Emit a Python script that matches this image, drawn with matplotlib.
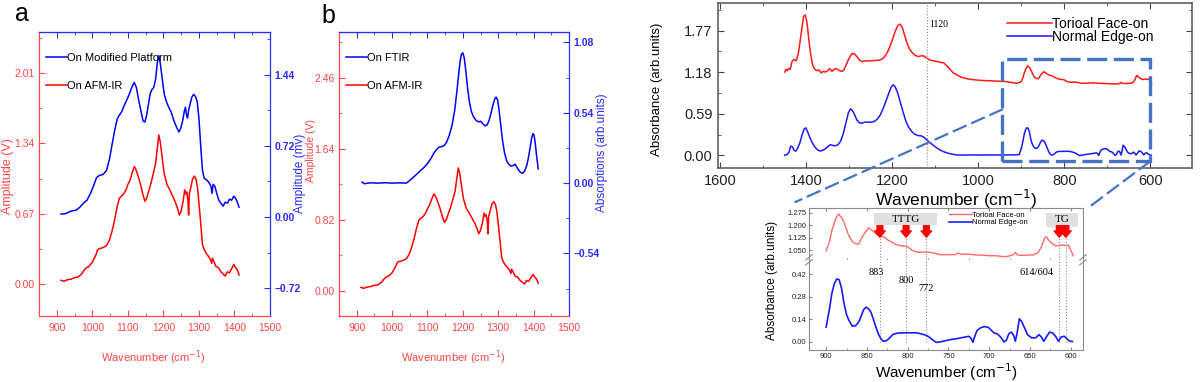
import numpy as np
import matplotlib
matplotlib.use("Agg")
import matplotlib.pyplot as plt
from matplotlib import font_manager as fm
from matplotlib.patches import Rectangle, ConnectionPatch
from matplotlib.ticker import MultipleLocator, AutoMinorLocator

# ---------------- data ----------------
# AFM-IR amplitude (V), used in panels a and b
afm_wn = [912, 920, 930, 940, 950, 960, 970, 980, 990, 1000,
          1010, 1015, 1020, 1030, 1040, 1048, 1055, 1062, 1070, 1076,
          1082, 1088, 1095, 1100, 1106, 1112, 1118, 1122, 1128, 1135,
          1142, 1148, 1153, 1158, 1165, 1172, 1178, 1183, 1187, 1191,
          1196, 1202, 1210, 1218, 1226, 1234, 1240, 1245, 1250, 1255,
          1260, 1263, 1266, 1269, 1271, 1273, 1277, 1282, 1287, 1292,
          1296, 1300, 1305, 1310, 1315, 1320, 1326, 1332, 1336, 1338,
          1342, 1348, 1355, 1362, 1368, 1374, 1380, 1386, 1392, 1398,
          1403, 1408, 1413]
afm_amp = [0.04, 0.03, 0.045, 0.05, 0.065, 0.07, 0.10, 0.15, 0.17, 0.21,
           0.28, 0.33, 0.34, 0.35, 0.37, 0.42, 0.50, 0.60, 0.74, 0.82,
           0.84, 0.86, 0.90, 0.95, 0.99, 1.06, 1.12, 1.10, 1.04, 0.96,
           0.86, 0.79, 0.82, 0.88, 0.96, 1.06, 1.15, 1.30, 1.42, 1.36,
           1.22, 1.06, 0.95, 0.90, 0.84, 0.78, 0.72, 0.66, 0.70, 0.78,
           0.90, 0.86, 0.88, 0.80, 0.66, 0.86, 0.92, 1.00, 1.03, 1.00,
           0.92, 0.78, 0.58, 0.38, 0.33, 0.30, 0.27, 0.24, 0.20, 0.25,
           0.22, 0.17, 0.16, 0.12, 0.10, 0.08, 0.12, 0.11, 0.15, 0.19,
           0.16, 0.14, 0.09]

# modified platform amplitude (mV), panel a
platform_wn = [912, 925, 940, 955, 965, 975, 985, 995, 1005, 1012,
               1020, 1030, 1040, 1048, 1055, 1062, 1070, 1076, 1082, 1090,
               1098, 1105, 1112, 1118, 1124, 1130, 1137, 1143, 1148, 1153,
               1158, 1163, 1168, 1173, 1178, 1183, 1187, 1191, 1196, 1202,
               1208, 1215, 1222, 1230, 1238, 1244, 1249, 1254, 1259, 1262,
               1265, 1268, 1271, 1275, 1280, 1285, 1290, 1295, 1300, 1305,
               1310, 1315, 1322, 1328, 1334, 1337, 1340, 1345, 1350, 1356,
               1362, 1368, 1374, 1380, 1386, 1392, 1398, 1403, 1408, 1413]
platform_amp = [0.03, 0.035, 0.06, 0.07, 0.10, 0.14, 0.17, 0.24, 0.33, 0.40,
                0.42, 0.43, 0.47, 0.58, 0.72, 0.86, 0.99, 1.03, 1.06, 1.13,
                1.19, 1.25, 1.32, 1.36, 1.31, 1.19, 1.07, 0.97, 0.96, 1.03,
                1.14, 1.25, 1.29, 1.31, 1.39, 1.56, 1.63, 1.56, 1.42, 1.25,
                1.17, 1.11, 1.06, 0.97, 0.90, 0.86, 0.90, 0.97, 1.07, 1.11,
                1.03, 1.00, 1.08, 1.14, 1.21, 1.24, 1.22, 1.17, 1.00, 0.72,
                0.47, 0.39, 0.375, 0.35, 0.31, 0.24, 0.33, 0.31, 0.24, 0.17,
                0.14, 0.11, 0.15, 0.14, 0.18, 0.17, 0.21, 0.19, 0.15, 0.10]

# FTIR absorption, panel b
ftir_wn = [915, 922, 930, 940, 960, 980, 1000, 1020, 1040, 1050,
           1060, 1070, 1080, 1090, 1100, 1110, 1118, 1125, 1132, 1140,
           1148, 1155, 1162, 1170, 1177, 1183, 1188, 1192, 1196, 1200,
           1204, 1208, 1213, 1218, 1224, 1230, 1238, 1245, 1250, 1255,
           1262, 1268, 1274, 1280, 1285, 1290, 1294, 1298, 1302, 1307,
           1312, 1318, 1324, 1330, 1336, 1342, 1348, 1355, 1362, 1368,
           1374, 1380, 1385, 1390, 1394, 1398, 1401, 1404, 1408, 1413]
ftir_abs = [0.008, -0.005, 0.0, 0.002, 0.0, 0.003, 0.0, 0.002, 0.0, 0.02,
            0.045, 0.07, 0.095, 0.12, 0.15, 0.19, 0.23, 0.255, 0.275, 0.28,
            0.29, 0.32, 0.37, 0.45, 0.56, 0.70, 0.83, 0.93, 0.99, 1.0,
            0.96, 0.87, 0.74, 0.63, 0.55, 0.51, 0.48, 0.47, 0.475, 0.46,
            0.44, 0.445, 0.48, 0.54, 0.60, 0.645, 0.66, 0.64, 0.57, 0.45,
            0.33, 0.23, 0.17, 0.145, 0.13, 0.135, 0.145, 0.11, 0.085, 0.075,
            0.09, 0.13, 0.19, 0.27, 0.34, 0.38, 0.37, 0.32, 0.22, 0.11]

# toroidal face-on absorbance (right panels)
face_wn = [1450, 1447, 1444, 1441, 1437, 1433, 1428, 1423, 1418, 1414,
           1410, 1406, 1402, 1398, 1394, 1390, 1385, 1380, 1375, 1370,
           1365, 1360, 1355, 1350, 1345, 1340, 1335, 1330, 1325, 1318,
           1312, 1306, 1300, 1294, 1288, 1282, 1276, 1270, 1260, 1250,
           1240, 1230, 1222, 1215, 1208, 1200, 1193, 1187, 1182, 1177,
           1172, 1166, 1160, 1154, 1147, 1140, 1133, 1127, 1120, 1112,
           1104, 1096, 1088, 1080, 1073, 1066, 1058, 1050, 1040, 1030,
           1015, 1000, 985, 965, 950, 935, 920, 910,
           900, 896, 893, 889, 885, 880, 876, 873, 869, 865,
           860, 855, 850, 848, 843, 838, 835, 828, 824, 820,
           815, 810, 805, 800, 795, 790, 785, 778, 772, 766,
           760, 750, 742, 738, 734, 726, 720, 712, 705, 700,
           692, 685, 680, 675, 671, 668, 665, 660, 652, 645,
           640, 636, 632, 630, 627, 623, 619, 615, 612, 609,
           606, 603, 600, 597]
face_abs = [1.18, 1.22, 1.20, 1.23, 1.22, 1.33, 1.36, 1.34, 1.45, 1.62,
            1.80, 1.97, 1.99, 1.88, 1.65, 1.45, 1.28, 1.22, 1.20, 1.21,
            1.17, 1.19, 1.18, 1.20, 1.23, 1.19, 1.22, 1.23, 1.21, 1.19,
            1.21, 1.30, 1.38, 1.44, 1.44, 1.40, 1.35, 1.33, 1.34, 1.34,
            1.345, 1.35, 1.37, 1.42, 1.50, 1.63, 1.76, 1.84, 1.86, 1.82,
            1.72, 1.60, 1.51, 1.46, 1.42, 1.40, 1.41, 1.41, 1.38, 1.35,
            1.34, 1.33, 1.32, 1.31, 1.27, 1.22, 1.17, 1.14, 1.11, 1.09,
            1.075, 1.065, 1.06, 1.055, 1.05, 1.045, 1.03, 1.02,
            1.046, 1.10, 1.168, 1.23, 1.27, 1.24, 1.19, 1.147, 1.11, 1.09,
            1.087, 1.137, 1.17, 1.185, 1.168, 1.145, 1.137, 1.127, 1.11, 1.10,
            1.085, 1.078, 1.075, 1.07, 1.05, 1.04, 1.036, 1.038, 1.036, 1.03,
            1.022, 1.022, 1.022, 1.032, 1.024, 1.026, 1.022, 1.02, 1.018, 1.016,
            1.016, 1.012, 1.01, 1.015, 1.02, 1.036, 1.02, 1.018, 1.02, 1.022,
            1.035, 1.07, 1.125, 1.131, 1.11, 1.09, 1.078, 1.076, 1.082, 1.08,
            1.076, 1.082, 1.05, 1.016]

# normal edge-on absorbance (right panels)
edge_wn = [1450, 1445, 1440, 1436, 1432, 1428, 1424, 1420, 1415, 1410,
           1405, 1401, 1397, 1392, 1386, 1380, 1374, 1368, 1362, 1356,
           1350, 1344, 1338, 1332, 1326, 1320, 1314, 1308, 1302, 1297,
           1292, 1287, 1282, 1276, 1270, 1264, 1258, 1250, 1242, 1235,
           1228, 1222, 1215, 1208, 1202, 1198, 1194, 1188, 1182, 1175,
           1168, 1162, 1155, 1148, 1140, 1132, 1125, 1118, 1110, 1100,
           1090, 1080, 1070, 1060, 1050, 1040, 1020, 1000, 980, 960,
           940, 920, 905,
           900, 896, 893, 890, 887, 884, 881, 878, 875, 872,
           868, 864, 860, 857, 854, 851, 848, 845, 842, 839,
           836, 833, 830, 826, 822, 818, 812, 805, 800, 795,
           790, 785, 780, 775, 770, 765, 760, 755, 748, 740,
           732, 725, 722, 720, 718, 715, 711, 706, 701, 697,
           694, 690, 686, 682, 679, 676, 673, 670, 668, 666,
           663, 660, 657, 653, 648, 643, 639, 636, 633, 630,
           626, 622, 618, 615, 612, 608, 605, 601, 598]
edge_abs = [0.0, 0.01, 0.04, 0.13, 0.12, 0.07, 0.06, 0.10, 0.17, 0.28,
            0.37, 0.39, 0.34, 0.26, 0.18, 0.12, 0.08, 0.06, 0.07, 0.09,
            0.12, 0.15, 0.14, 0.135, 0.15, 0.20, 0.30, 0.45, 0.60, 0.66,
            0.63, 0.57, 0.50, 0.46, 0.455, 0.47, 0.47, 0.47, 0.48, 0.51,
            0.57, 0.65, 0.76, 0.88, 0.97, 1.00, 0.98, 0.90, 0.77, 0.62,
            0.48, 0.40, 0.34, 0.30, 0.28, 0.275, 0.25, 0.21, 0.17, 0.12,
            0.08, 0.05, 0.03, 0.015, 0.005, 0.003, 0.005, 0.004, 0.005, 0.004,
            0.004, 0.006, 0.01,
            0.092, 0.20, 0.30, 0.36, 0.39, 0.385, 0.33, 0.236, 0.17, 0.133,
            0.098, 0.10, 0.123, 0.16, 0.20, 0.215, 0.205, 0.184, 0.14, 0.092,
            0.05, 0.02, 0.004, 0.008, 0.025, 0.047, 0.055, 0.056, 0.057, 0.056,
            0.057, 0.052, 0.045, 0.035, 0.015, -0.003, 0.0, 0.006, 0.014, 0.02,
            0.028, 0.035, 0.02, -0.002, 0.03, 0.07, 0.086, 0.095, 0.09, 0.07,
            0.055, 0.05, 0.03, 0.0, 0.01, 0.05, 0.061, 0.04, 0.004, 0.05,
            0.143, 0.125, 0.09, 0.045, 0.025, 0.025, 0.045, 0.03, 0.004, 0.03,
            0.061, 0.055, 0.03, 0.004, 0.03, 0.035, 0.02, 0.004, 0.003]

# annotated bands in the inset
tttg_bands = [834, 802, 777]
tg_bands = [614, 606]
band_labels = ["883", "800", "772", "614/604"]

# ---------------- style ----------------
W, H = 1200, 382
names = {f.name for f in fm.fontManager.ttflist}
NARROW = "Liberation Sans Narrow" if "Liberation Sans Narrow" in names else "Liberation Sans"
SANS = "Liberation Sans"
SERIF = "Liberation Serif"
plt.rcParams["font.family"] = [NARROW, "DejaVu Sans"]

RED = "#ff0000"
BLUE = "#0000ff"
RED_AX = "#ff4545"
BLUE_AX = "#2a2aff"
RED_LIGHT = "#ff6a6a"
DASH = "#4472c4"
GRAY = "#8a8a8a"


def rect(l, t, r, b):
    return [l / W, 1 - b / H, (r - l) / W, (b - t) / H]


def fx(px):
    return px / W


def fy(py):
    return 1 - py / H


def fmt(v, nd=2):
    s = f"{abs(v):.{nd}f}"
    return ("\u2013" + s) if v < 0 else s


fig = plt.figure(figsize=(W / 100, H / 100), dpi=100)


def amp_panel(box, blue_wn, blue_val, blue_name, red_ticks, red_lim, blue_ticks, blue_lim):
    ax = fig.add_axes(rect(*box))
    ax2 = ax.twinx()
    ln_r, = ax.plot(afm_wn, afm_amp, color=RED, lw=1.1)
    ln_b, = ax2.plot(blue_wn, blue_val, color=BLUE, lw=1.1)
    ax.set_xlim(850, 1500)
    ax.xaxis.set_major_locator(MultipleLocator(100))
    ax.xaxis.set_minor_locator(MultipleLocator(50))
    ax.set_ylim(*red_lim)
    ax.set_yticks(red_ticks)
    ax.set_yticklabels([fmt(v) for v in red_ticks])
    ax.yaxis.set_minor_locator(AutoMinorLocator(2))
    ax2.set_ylim(*blue_lim)
    ax2.set_yticks(blue_ticks)
    ax2.set_yticklabels([fmt(v) for v in blue_ticks], fontweight="bold")
    ax2.yaxis.set_minor_locator(AutoMinorLocator(2))
    ax.tick_params(axis="both", which="both", direction="in", colors=RED_AX,
                   labelsize=7.5, pad=5)
    ax.tick_params(axis="y", pad=3)
    ax.tick_params(which="major", length=4)
    ax.tick_params(which="minor", length=2)
    ax2.tick_params(axis="y", which="both", direction="in", colors=BLUE_AX,
                    labelsize=7.5, pad=3)
    ax2.tick_params(which="major", length=4)
    ax2.tick_params(which="minor", length=2)
    for a in (ax, ax2):
        a.spines["left"].set_color(RED_AX)
        a.spines["bottom"].set_color(RED_AX)
        a.spines["top"].set_color(BLUE_AX)
        a.spines["right"].set_color(BLUE_AX)
    sec = ax.secondary_xaxis("top")
    sec.xaxis.set_major_locator(MultipleLocator(100))
    sec.xaxis.set_minor_locator(MultipleLocator(50))
    sec.tick_params(which="both", direction="in", colors=BLUE_AX, labeltop=False)
    sec.tick_params(which="major", length=4)
    sec.tick_params(which="minor", length=2)
    sec.spines["top"].set_color(BLUE_AX)
    ax2.legend([ln_b, ln_r], [blue_name, "On AFM-IR"], loc="upper left",
               bbox_to_anchor=(0.03, 0.925), frameon=False, fontsize=8,
               handlelength=1.9, handletextpad=0.0, labelspacing=1.55,
               borderpad=0, borderaxespad=0)
    return ax, ax2


# panel a
amp_panel((39, 32, 270, 316), platform_wn, platform_amp, "On Modified Platform",
          [0.0, 0.67, 1.34, 2.01], (-0.3, 2.4), [-0.72, 0.0, 0.72, 1.44], (-1.0, 1.87))
# panel b
amp_panel((339, 32, 569, 316), ftir_wn, ftir_abs, "On FTIR",
          [0.0, 0.82, 1.64, 2.46], (-0.29, 2.99), [-0.54, 0.0, 0.54, 1.08], (-1.02, 1.16))

fig.text(fx(22), fy(14), "a", fontsize=18, family=SANS, ha="center", va="center")
fig.text(fx(328), fy(16), "b", fontsize=18, family=SANS, ha="center", va="center")
fig.text(fx(8), fy(176), "Amplitude (V)", rotation=90, color=RED_AX, fontsize=9,
         ha="center", va="center")
fig.text(fx(300), fy(173), "Amplitude (mv)", rotation=90, color=BLUE_AX, fontsize=8.5,
         ha="center", va="center")
fig.text(fx(311), fy(151), "Amplitude (V)", rotation=90, color=RED_AX, fontsize=7.5,
         ha="center", va="center")
fig.text(fx(602), fy(153), "Absorptions (arb.units)", rotation=90, color=BLUE_AX,
         fontsize=8.5, family=SANS, ha="center", va="center")
for cx in (153, 453):
    fig.text(fx(cx), fy(358), "Wavenumber (cm$^{-1}$)", color=RED_AX, fontsize=8,
             ha="center", va="center")

# ---------------- panel c (top right) ----------------
axc = fig.add_axes(rect(718, 3, 1192, 168))
axc.plot(face_wn, face_abs, color="#ff1a1a", lw=1.1, label="Torioal Face-on")
axc.plot(edge_wn, edge_abs, color="#1a1aff", lw=1.1, label="Normal Edge-on")
axc.set_xlim(1605, 503)
axc.set_ylim(-0.18, 2.16)
axc.set_xticks([1600, 1400, 1200, 1000, 800, 600])
axc.xaxis.set_minor_locator(MultipleLocator(100))
axc.set_yticks([0.0, 0.59, 1.18, 1.77])
axc.set_yticklabels([fmt(v) for v in [0.0, 0.59, 1.18, 1.77]])
axc.yaxis.set_minor_locator(AutoMinorLocator(2))
axc.tick_params(which="both", direction="in", top=True, right=True,
                labelsize=10.5, labelcolor="#222", color="#444", pad=4)
axc.tick_params(which="major", length=4)
axc.tick_params(which="minor", length=2.5)
for sp in axc.spines.values():
    sp.set_color("#555")
    sp.set_linewidth(1.1)
for lbl in axc.get_xticklabels() + axc.get_yticklabels():
    lbl.set_family(SANS)
axc.axvline(1120, color=GRAY, ls=":", lw=0.8)
axc.text(1113, 1.86, "1120", family=SERIF, fontsize=7, va="center", ha="left")
axc.add_patch(Rectangle((944, -0.084), 600 - 944, 1.444, fill=False, ec=DASH,
                        lw=2.4, ls=(0, (6, 2)), clip_on=False, zorder=4))
axc.legend(loc="upper left", bbox_to_anchor=(0.61, 0.915), frameon=False,
           prop={"family": SANS, "size": 10}, handlelength=3.2,
           handletextpad=0.0, labelspacing=-0.05, borderpad=0, borderaxespad=0)
fig.text(fx(956), fy(199), "Wavenumber (cm$^{-1}$)", family=SANS, fontsize=12.5,
         ha="center", va="center")
fig.text(fx(657), fy(89), "Absorbance (arb.units)", rotation=90, fontsize=9.5,
         ha="center", va="center")

# ---------------- inset (broken y axis) ----------------
axu = fig.add_axes(rect(809, 208, 1083, 260))
axl = fig.add_axes(rect(809, 260, 1083, 350))
face_wn_a = np.array(face_wn)
face_abs_a = np.array(face_abs)
edge_wn_a = np.array(edge_wn)
edge_abs_a = np.array(edge_abs)
sf = face_wn_a <= 900
se = edge_wn_a <= 900
l_face, = axu.plot(face_wn_a[sf], face_abs_a[sf], color=RED_LIGHT, lw=1.0, zorder=3)
l_edge, = axl.plot(edge_wn_a[se], edge_abs_a[se], color="#1a1aff", lw=1.2, zorder=3)
for a in (axu, axl):
    a.set_xlim(921, 585)
    a.xaxis.set_major_locator(MultipleLocator(50))
    a.xaxis.set_minor_locator(MultipleLocator(25))
    a.tick_params(which="both", direction="in", labelsize=5.5, color=GRAY,
                  labelcolor="#222", pad=2)
    a.tick_params(which="major", length=2.5)
    a.tick_params(which="minor", length=1.5)
    for sp in a.spines.values():
        sp.set_color(GRAY)
        sp.set_linewidth(0.8)
axu.set_ylim(0.99, 1.305)
axu.set_yticks([1.05, 1.125, 1.2, 1.275])
axu.set_yticklabels([fmt(v, 3) for v in [1.05, 1.125, 1.2, 1.275]])
axu.tick_params(top=True, bottom=False, labelbottom=False)
axu.spines["bottom"].set_visible(False)
axl.set_ylim(-0.05, 0.507)
axl.set_yticks([0.0, 0.14, 0.28, 0.42])
axl.set_yticklabels([fmt(v) for v in [0.0, 0.14, 0.28, 0.42]])
axl.spines["top"].set_visible(False)
for lbl in axu.get_yticklabels() + axl.get_yticklabels() + axl.get_xticklabels():
    lbl.set_family(SANS)

# band markers
bands = tttg_bands + tg_bands
axu.vlines(bands, 0.99, 1.128, colors=GRAY, linestyles=":", lw=0.8, zorder=2)
axl.vlines(bands, 0.0, 0.507, colors=GRAY, linestyles=":", lw=0.8, zorder=2)
for b in bands:
    axu.annotate("", xy=(b, 1.128), xytext=(b, 1.198),
                 arrowprops=dict(arrowstyle="simple,head_length=0.45,head_width=0.75,tail_width=0.42",
                                 color="red", mutation_scale=10, shrinkA=0, shrinkB=0),
                 zorder=5)
axu.add_patch(Rectangle((841, 1.2), 764 - 841, 0.075, fc="#e0e0e0", ec="none", zorder=1))
axu.text(802.5, 1.2375, "TTTG", family=SERIF, fontsize=8, ha="center", va="center")
axu.add_patch(Rectangle((630, 1.19), 591 - 630, 0.085, fc="#e0e0e0", ec="none", zorder=1))
axu.text(610.5, 1.2325, "TG", family=SERIF, fontsize=8, ha="center", va="center")
for txt, x, y in zip(band_labels, [838, 802, 778, 642], [0.43, 0.38, 0.33, 0.43]):
    axl.text(x, y, txt, family=SERIF, fontsize=7.5, ha="center", va="center")
axu.legend([l_face, l_edge], ["Torioal Face-on", "Normal Edge-on"], loc="upper left",
           bbox_to_anchor=(0.51, 0.93), frameon=False, prop={"family": SANS, "size": 5.5},
           handlelength=3.0, handletextpad=0.0, labelspacing=0.0, borderpad=0,
           borderaxespad=0)

# break marks on the y axis
for xa in (0, 1):
    for dy in (-0.025, 0.03):
        axl.plot([xa - 0.012, xa + 0.012], [1 + dy - 0.03, 1 + dy + 0.03],
                 transform=axl.transAxes, color=GRAY, lw=0.8, clip_on=False)

fig.text(fx(946), fy(372), "Wavenumber (cm$^{-1}$)", family=SANS, fontsize=11,
         ha="center", va="center")
fig.text(fx(772), fy(280), "Absorbance (arb.units)", rotation=90, fontsize=8.5,
         ha="center", va="center")

# zoom connectors
for xyA, xyB in [((944, 0.65), (-0.05, 1.115)), ((600, -0.084), (1.018, 1.0))]:
    con = ConnectionPatch(xyA=xyA, coordsA=axc.transData, xyB=xyB, coordsB=axu.transAxes,
                          color=DASH, lw=1.6, ls=(0, (6, 3)))
    fig.add_artist(con)

fig.savefig("out.png", dpi=100)
